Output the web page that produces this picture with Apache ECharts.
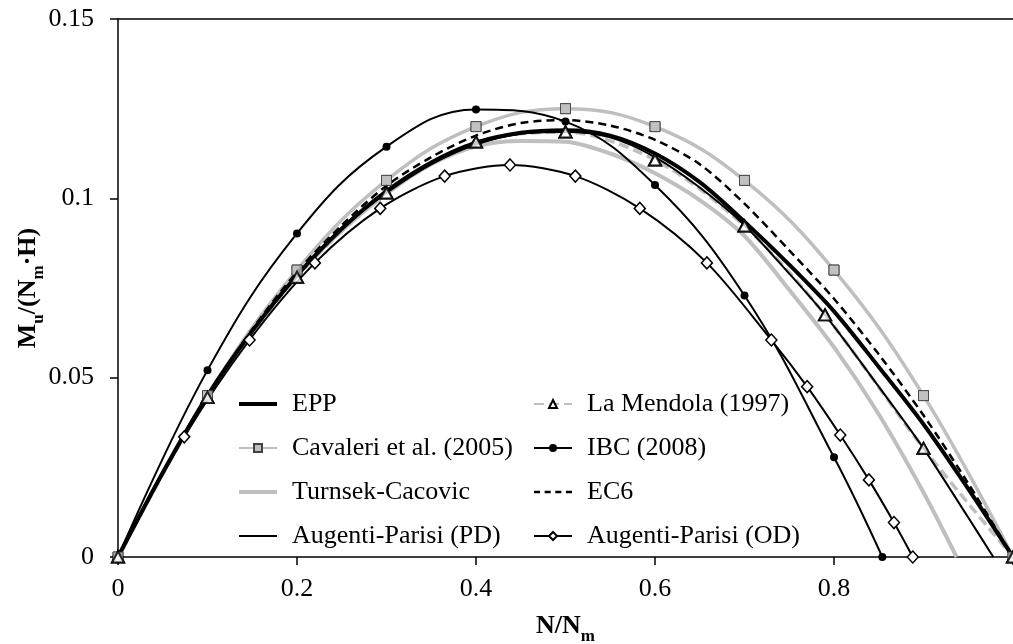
<!DOCTYPE html>
<html><head><meta charset="utf-8">
<script src="https://cdn.jsdelivr.net/npm/echarts@6.0.0/dist/echarts.min.js"></script>
<style>html,body{margin:0;padding:0;background:#fff}#c{width:1013px;height:644px}</style>
</head><body><div id="c"></div><script>
const FONT = "'Liberation Serif','Times New Roman',serif";
const GRAY = '#bfbfbf';

// ---- data (N/Nm , Mu/(Nm*H)) ----
const nStep = [0,0.05,0.1,0.15,0.2,0.25,0.3,0.35,0.4,0.45,0.5,0.55,0.6,0.65,0.7,0.75,0.8,0.85,0.9,0.95,1.0];
const eppM  = [0,0.0235,0.045,0.063,0.0785,0.0915,0.102,0.110,0.1155,0.1183,0.119,0.1175,0.1125,0.1045,0.0935,0.0815,0.0685,0.053,0.037,0.019,0];
const ec6M  = [0,0.0237,0.045,0.0635,0.0795,0.0925,0.1035,0.1115,0.1175,0.121,0.1218,0.1203,0.1163,0.1095,0.0985,0.0855,0.072,0.0565,0.0395,0.0205,0];

const turnsekN = [0,0.05,0.1,0.15,0.2,0.25,0.3,0.35,0.4,0.45,0.5,0.55,0.6,0.65,0.7,0.75,0.8,0.85,0.9,0.937];
const turnsekM = [0,0.0235,0.0447,0.063,0.0785,0.091,0.1013,0.1095,0.1145,0.116,0.1158,0.1125,0.107,0.0995,0.0895,0.0745,0.0585,0.0398,0.018,0];

const pdN = [0,0.05,0.1,0.15,0.2,0.25,0.3,0.35,0.4,0.45,0.5,0.55,0.6,0.65,0.7,0.75,0.79,0.85,0.9,0.95,0.978];
const pdM = [0,0.0235,0.045,0.063,0.0785,0.0915,0.1015,0.1095,0.115,0.118,0.1185,0.117,0.1115,0.103,0.0925,0.079,0.0675,0.0475,0.0303,0.011,0];

const cavaleriN = [0,0.1,0.2,0.3,0.4,0.5,0.6,0.7,0.8,0.9,1.0];
const cavaleriM = [0,0.045,0.08,0.105,0.12,0.125,0.12,0.105,0.08,0.045,0];

const laMendolaN = [0,0.1,0.2,0.3,0.4,0.5,0.6,0.7,0.79,0.9,1.0];
const laMendolaM = [0,0.0445,0.078,0.1015,0.1157,0.1185,0.1107,0.0923,0.0675,0.0303,0];

const ibcN = [0,0.1,0.2,0.3,0.4,0.5,0.6,0.7,0.8,0.854];
const ibcM = [0,0.0521,0.0902,0.1144,0.1248,0.1214,0.1037,0.0729,0.0278,0];

const odN = [0,0.074,0.147,0.22,0.293,0.365,0.438,0.511,0.583,0.658,0.73,0.77,0.807,0.839,0.867,0.888];
const odM = [0,0.0335,0.0605,0.082,0.0972,0.1062,0.1093,0.1062,0.0972,0.082,0.0605,0.0475,0.034,0.0215,0.0096,0];

const xTickLabels = ['0','0.2','0.4','0.6','0.8',''];
const yTickLabels = ['0','0.05','0.1','0.15'];

const legendCol1 = ['EPP','Cavaleri et al. (2005)','Turnsek-Cacovic','Augenti-Parisi (PD)'];
const legendCol2 = ['La Mendola (1997)','IBC (2008)','EC6','Augenti-Parisi (OD)'];

// ---- helpers ----
const pts = (xs, ys) => xs.map((x, i) => [x, ys[i]]);
const ICON_THICK = 'path://M0,0H100V10H0Z';
const ICON_THIN = 'path://M0,0H100V5H0Z';
const ICON_DASH = 'path://M0,0H16V6H0Z M28,0H44V6H28Z M56,0H72V6H56Z M84,0H100V6H84Z';
const legendIcons = {
  'EPP': ICON_THICK,
  'Turnsek-Cacovic': ICON_THICK,
  'Augenti-Parisi (PD)': ICON_THIN,
  'EC6': ICON_DASH
};
const legendItem = name => legendIcons[name]
  ? { name, icon: legendIcons[name], itemStyle: { borderWidth: 0 } }
  : { name };

const nameRich = {
  t: { fontFamily: FONT, fontWeight: 'bold', fontSize: 26, color: '#000' },
  s: { fontFamily: FONT, fontWeight: 'bold', fontSize: 17, color: '#000', padding: [20, 0, 0, 0] }
};

const legendBase = {
  orient: 'vertical', top: 391, padding: 0, itemWidth: 38, itemHeight: 10, itemGap: 18,
  selectedMode: false,
  textStyle: { fontFamily: FONT, fontSize: 26, color: '#000', padding: [0, 0, 0, 10] }
};

const axisLineStyle = { color: '#000', width: 1.5 };

const chart = echarts.init(document.getElementById('c'), null, { renderer: 'canvas' });
chart.setOption({
  animation: false,
  backgroundColor: '#fff',
  grid: { left: 118, top: 19, right: 0, bottom: 87, containLabel: false, outerBoundsMode: 'none' },
  legend: [
    Object.assign({}, legendBase, { left: 238, data: legendCol1.map(legendItem) }),
    Object.assign({}, legendBase, { left: 533, data: legendCol2.map(legendItem) })
  ],
  xAxis: [{
    type: 'value', min: 0, max: 1, interval: 0.2, position: 'bottom',
    axisLine: { show: true, onZero: false, lineStyle: axisLineStyle },
    axisTick: { show: true, inside: false, length: 8, lineStyle: axisLineStyle },
    axisLabel: { fontFamily: FONT, fontSize: 26, color: '#000', margin: 19,
      formatter: (v, i) => xTickLabels[i] },
    splitLine: { show: false },
    name: '{t|N/N}{s|m}', nameLocation: 'middle', nameGap: 51,
    nameTextStyle: { rich: nameRich }
  }, {
    type: 'value', min: 0, max: 1, interval: 0.2, position: 'top',
    axisLine: { show: true, onZero: false, lineStyle: axisLineStyle },
    axisTick: { show: false }, axisLabel: { show: false }, splitLine: { show: false }
  }],
  yAxis: {
    type: 'value', min: 0, max: 0.15, interval: 0.05,
    axisLine: { show: true, onZero: false, lineStyle: axisLineStyle },
    axisTick: { show: true, inside: false, length: 8, lineStyle: axisLineStyle },
    axisLabel: { fontFamily: FONT, fontSize: 26, color: '#000', margin: 24,
      formatter: (v, i) => yTickLabels[i] },
    splitLine: { show: false },
    name: '{t|M}{s|u}{t|/(N}{s|m}{t|·H)}', nameLocation: 'middle', nameGap: 71, nameRotate: 90,
    nameMoveOverlap: false,
    nameTextStyle: { rich: nameRich }
  },
  series: [
    { name: 'Turnsek-Cacovic', type: 'line', data: pts(turnsekN, turnsekM), smooth: 0.3,
      symbol: 'none', lineStyle: { color: GRAY, width: 4 }, itemStyle: { color: GRAY }, z: 2 },
    { name: 'Cavaleri et al. (2005)', type: 'line', data: pts(cavaleriN, cavaleriM), smooth: 0.4,
      symbol: 'rect', symbolSize: 10, showSymbol: true,
      lineStyle: { color: GRAY, width: 3.5 },
      itemStyle: { color: '#c0c0c0', borderColor: '#404040', borderWidth: 1 }, z: 2 },
    { name: 'La Mendola (1997)', type: 'line', data: pts(laMendolaN, laMendolaM), smooth: 0.3,
      symbol: 'triangle', symbolSize: [12, 11], showSymbol: true,
      lineStyle: { color: GRAY, width: 3.5, type: [10, 5] },
      itemStyle: { color: '#fff', borderColor: '#000', borderWidth: 2 }, z: 2 },
    { name: 'EC6', type: 'line', data: pts(nStep, ec6M), smooth: 0.3, symbol: 'none',
      lineStyle: { color: '#000', width: 2.5, type: [8, 5] }, itemStyle: { color: '#000' }, z: 3 },
    { name: 'EPP', type: 'line', data: pts(nStep, eppM), smooth: 0.3, symbol: 'none',
      lineStyle: { color: '#000', width: 4 }, itemStyle: { color: '#000' }, z: 3 },
    { name: 'Augenti-Parisi (PD)', type: 'line', data: pts(pdN, pdM), smooth: 0.3, symbol: 'none',
      lineStyle: { color: '#000', width: 2 }, itemStyle: { color: '#000' }, z: 3 },
    { name: 'IBC (2008)', type: 'line', data: pts(ibcN, ibcM), smooth: 0.4,
      symbol: 'circle', symbolSize: 8, showSymbol: true,
      lineStyle: { color: '#000', width: 2 }, itemStyle: { color: '#000' }, z: 4 },
    { name: 'Augenti-Parisi (OD)', type: 'line', data: pts(odN, odM), smooth: 0.3,
      symbol: 'diamond', symbolSize: [11, 12], showSymbol: true,
      lineStyle: { color: '#000', width: 2 },
      itemStyle: { color: '#fff', borderColor: '#000', borderWidth: 1.5 }, z: 4 },
    { name: 'Cavaleri et al. (2005)', type: 'scatter', data: pts(cavaleriN, cavaleriM),
      symbol: 'rect', symbolSize: 10,
      itemStyle: { color: '#c0c0c0', borderColor: '#404040', borderWidth: 1 }, z: 5 },
    { name: 'La Mendola (1997)', type: 'scatter', data: pts(laMendolaN, laMendolaM),
      symbol: 'triangle', symbolSize: [12, 11],
      itemStyle: { color: '#fff', borderColor: '#000', borderWidth: 2 }, z: 5 }
  ]
});
</script></body></html>
